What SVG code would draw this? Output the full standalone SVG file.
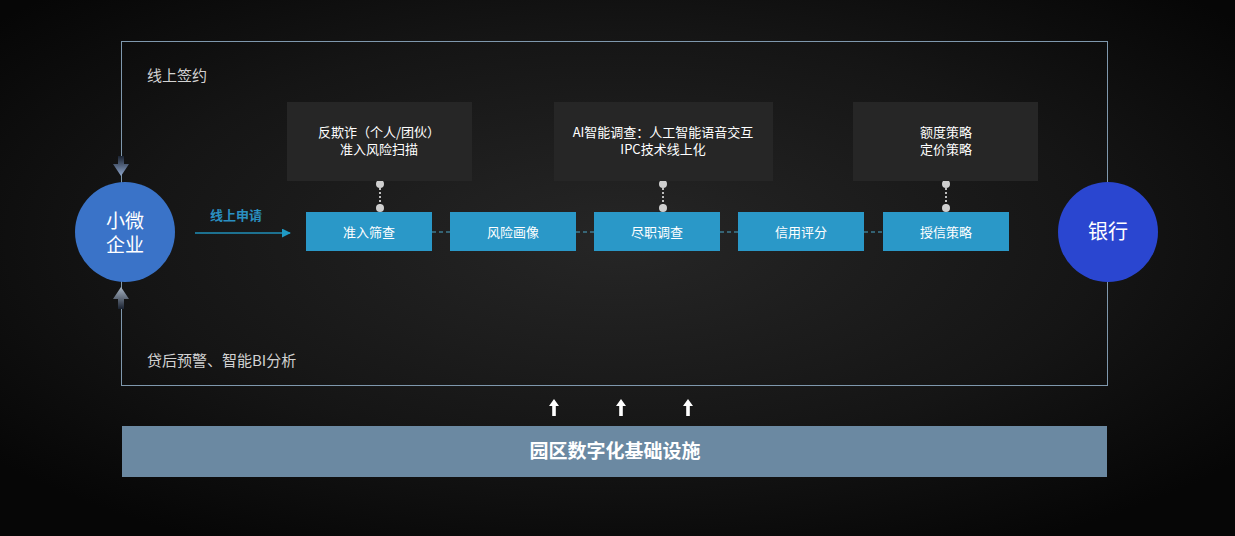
<svg xmlns="http://www.w3.org/2000/svg" width="1235" height="536" viewBox="0 0 1235 536">
<defs>
<radialGradient id="bg" cx="0.5" cy="0.45" r="0.65">
<stop offset="0" stop-color="#262626"/>
<stop offset="0.6" stop-color="#151515"/>
<stop offset="1" stop-color="#060606"/>
</radialGradient>
<linearGradient id="ad" x1="0" y1="0" x2="0" y2="1">
<stop offset="0" stop-color="#1a2230"/>
<stop offset="1" stop-color="#8ea6cc"/>
</linearGradient>
<linearGradient id="au" x1="0" y1="1" x2="0" y2="0">
<stop offset="0" stop-color="#1a2230"/>
<stop offset="1" stop-color="#a9b6c6"/>
</linearGradient>
<marker id="tri" viewBox="0 0 10 10" refX="9" refY="5" markerWidth="9" markerHeight="9" markerUnits="userSpaceOnUse" orient="auto">
<path d="M0,0 L10,5 L0,10 Z" fill="#1f9ac4"/>
</marker>
<style>
.t{font-family:"Microsoft YaHei","Noto Sans CJK SC",sans-serif;fill:#ffffff;}
.step{fill:#2a98c8;}
.gbox{fill:#262626;}
.dot{fill:#cfcfcf;}
.frame{fill:none;stroke:#7f98ad;stroke-width:1;}
</style>
</defs>
<rect width="1235" height="536" fill="url(#bg)"/>

<g id="frame">
<rect class="frame" x="121.5" y="41.5" width="986" height="344"/>
<text class="t" x="147" y="81" font-size="15" style="fill:#d2d2d2">线上签约</text>
<text class="t" x="147" y="366" font-size="15" style="fill:#d2d2d2">贷后预警、智能BI分析</text>
</g>

<g id="connectors">
<line x1="195" y1="233" x2="290" y2="233" stroke="#1f8fb8" stroke-width="1.5" marker-end="url(#tri)"/>
<g stroke="#4aa6c8" stroke-width="1" stroke-dasharray="4,3">
<line x1="432" y1="232" x2="450" y2="232"/>
<line x1="576" y1="232" x2="594" y2="232"/>
<line x1="720" y1="232" x2="738" y2="232"/>
<line x1="864" y1="232" x2="883" y2="232"/>
</g>
<g stroke="#bdbdbd" stroke-width="2" stroke-dasharray="2,2">
<line x1="380" y1="184" x2="380" y2="208"/>
<line x1="663" y1="184" x2="663" y2="208"/>
<line x1="946" y1="184" x2="946" y2="208"/>
</g>
<circle class="dot" cx="380" cy="184" r="4"/>
<circle class="dot" cx="380" cy="208" r="4"/>
<circle class="dot" cx="663" cy="184" r="4"/>
<circle class="dot" cx="663" cy="208" r="4"/>
<circle class="dot" cx="946" cy="184" r="4"/>
<circle class="dot" cx="946" cy="208" r="4"/>
<path d="M118,156 h6 v8 h5 l-8,12 l-8,-12 h5 z" fill="url(#ad)"/>
<path d="M121,287 l8,12 h-5 v10 h-6 v-10 h-5 z" fill="url(#au)"/>
<g fill="#ffffff">
<path d="M554,399 l5,7 h-3.2 v10 h-3.6 v-10 h-3.2 z"/>
<path d="M621,399 l5,7 h-3.2 v10 h-3.6 v-10 h-3.2 z"/>
<path d="M688,399 l5,7 h-3.2 v10 h-3.6 v-10 h-3.2 z"/>
</g>
</g>

<g id="sme">
<circle cx="125" cy="232" r="50" fill="#3a73c8"/>
<text class="t" x="125" y="228" font-size="19" text-anchor="middle">小微</text>
<text class="t" x="125" y="252" font-size="19" text-anchor="middle">企业</text>
</g>

<g id="bank">
<circle cx="1108" cy="232" r="50" fill="#2a46d0"/>
<text class="t" x="1108" y="239" font-size="20" text-anchor="middle">银行</text>
</g>

<g id="apply-label">
<text class="t" x="236" y="220" font-size="13" text-anchor="middle" font-weight="bold" style="fill:#2a8fc0">线上申请</text>
</g>

<g id="s1"><rect class="step" x="306" y="212" width="126" height="39"/><text class="t" x="369" y="237" font-size="13" text-anchor="middle">准入筛查</text></g>
<g id="s2"><rect class="step" x="450" y="212" width="126" height="39"/><text class="t" x="513" y="237" font-size="13" text-anchor="middle">风险画像</text></g>
<g id="s3"><rect class="step" x="594" y="212" width="126" height="39"/><text class="t" x="657" y="237" font-size="13" text-anchor="middle">尽职调查</text></g>
<g id="s4"><rect class="step" x="738" y="212" width="126" height="39"/><text class="t" x="801" y="237" font-size="13" text-anchor="middle">信用评分</text></g>
<g id="s5"><rect class="step" x="883" y="212" width="126" height="39"/><text class="t" x="946" y="237" font-size="13" text-anchor="middle">授信策略</text></g>

<g id="g1"><rect class="gbox" x="287" y="102" width="185" height="79"/>
<text class="t" x="379" y="137" font-size="13" text-anchor="middle">反欺诈（个人/团伙）</text>
<text class="t" x="379" y="154" font-size="13" text-anchor="middle">准入风险扫描</text></g>
<g id="g2"><rect class="gbox" x="554" y="102" width="219" height="79"/>
<text class="t" x="663" y="137" font-size="13" text-anchor="middle">AI智能调查：人工智能语音交互</text>
<text class="t" x="663" y="154" font-size="13" text-anchor="middle">IPC技术线上化</text></g>
<g id="g3"><rect class="gbox" x="853" y="102" width="185" height="79"/>
<text class="t" x="946" y="137" font-size="13" text-anchor="middle">额度策略</text>
<text class="t" x="946" y="154" font-size="13" text-anchor="middle">定价策略</text></g>

<g id="infra">
<rect x="122" y="426" width="985" height="51" fill="#6b89a2"/>
<text class="t" x="615" y="458" font-size="19" font-weight="bold" text-anchor="middle">园区数字化基础设施</text>
</g>
</svg>
